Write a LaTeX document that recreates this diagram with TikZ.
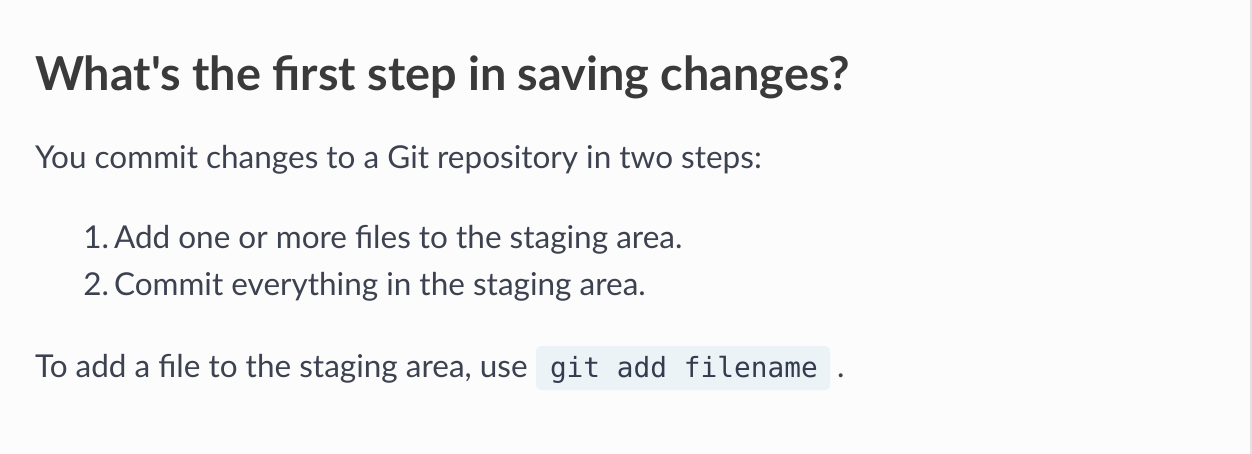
\documentclass[tikz,border=0pt]{standalone}
\usepackage{fontspec}
\setmainfont{Lato}
\newfontfamily\titlefont{Lato Bold}
\newfontfamily\codefont{DejaVu Sans Mono}
\definecolor{bgc}{HTML}{FCFCFC}
\definecolor{edgec}{HTML}{E2E2E2}
\definecolor{titlec}{HTML}{3A3A3A}
\definecolor{bodyc}{HTML}{3D4251}
\definecolor{codebg}{HTML}{EBF3F6}
\definecolor{codec}{HTML}{333C4E}
\tikzset{
  txt/.style={anchor=base west, inner sep=0pt, outer sep=0pt},
  titletxt/.style={txt, text=titlec, font=\fontsize{46.8}{52}\selectfont\titlefont},
  bodytxt/.style={txt, text=bodyc, font=\fontsize{31.5}{36}\selectfont},
  marker/.style={bodytxt, anchor=base east},
  codetxt/.style={txt, text=codec, font=\fontsize{27.8}{32}\selectfont\codefont},
}
\begin{document}
\begin{tikzpicture}[x=1pt,y=-1pt]
\useasboundingbox (0,0) rectangle (1252,454);
\fill[bgc] (0,0) rectangle (1252,454);
\fill[edgec] (1250,0) rectangle (1252,454);
\node[titletxt] (title) at (35,91) {What's the first step in saving changes?};
\node[bodytxt] (intro) at (35,169) {You commit changes to a Git repository in two steps:};
\node[marker] (m1) at (109,249) {1.};
\node[bodytxt] (item1) at (114,249) {Add one or more files to the staging area.};
\node[marker] (m2) at (109,295) {2.};
\node[bodytxt] (item2) at (114,295) {Commit everything in the staging area.};
\node[bodytxt] (last) at (35,377) {To add a file to the staging area, use};
\fill[codebg, rounded corners=5pt] (536,346) rectangle (830,390);
\node[codetxt] (code) at (550,377) {git add filename};
\node[bodytxt] (dot) at (837,377) {.};
\end{tikzpicture}
\end{document}
